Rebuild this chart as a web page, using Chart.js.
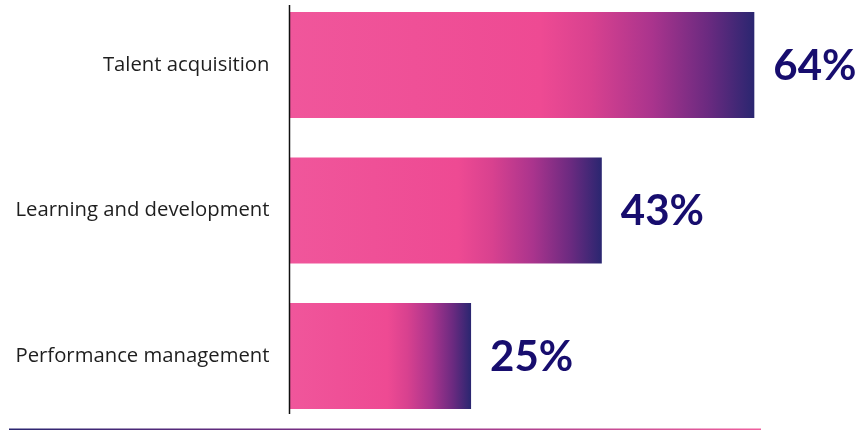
<!DOCTYPE html>
<html>
<head>
<meta charset="utf-8">
<script src="https://cdn.jsdelivr.net/npm/chart.js@4/dist/chart.umd.min.js"></script>
<style>
  html, body { margin: 0; padding: 0; background: #ffffff; }
  #wrap { width: 860px; height: 430px; position: relative; }
</style>
</head>
<body>
<div id="wrap"><canvas id="chart"></canvas></div>
<script>
// Share of respondents by HR focus area
const categories = ['Talent acquisition', 'Learning and development', 'Performance management'];
const shares = [64, 43, 25];
const valueLabels = ['64%', '43%', '25%'];

const PINK_LIGHT = '#F0569B';
const PINK = '#EE4A93';
const NAVY = '#2A2670';
const LABEL_NAVY = '#170D6E';

// Horizontal gradient that runs across each bar from its base to its tip
function barGradient(ctx) {
  const chart = ctx.chart;
  if (!chart.chartArea || ctx.type !== 'data') return PINK;
  const xs = chart.scales.x;
  const x0 = xs.getPixelForValue(0);
  const x1 = xs.getPixelForValue(ctx.raw);
  if (!isFinite(x0) || !isFinite(x1) || x1 <= x0) return PINK;
  const g = chart.ctx.createLinearGradient(x0, 0, x1, 0);
  g.addColorStop(0, PINK_LIGHT);
  g.addColorStop(0.54, PINK);
  g.addColorStop(0.65, '#D8418F');
  g.addColorStop(0.78, '#AA348D');
  g.addColorStop(0.9, '#6B2A80');
  g.addColorStop(1, NAVY);
  return g;
}

// Value labels, vertical axis rule and the gradient underline
const decorations = {
  id: 'decorations',
  afterDatasetsDraw(chart) {
    const c = chart.ctx;
    const area = chart.chartArea;
    const meta = chart.getDatasetMeta(0);
    c.save();
    c.font = 'bold 42px Lato, "Noto Sans", sans-serif';
    c.fillStyle = LABEL_NAVY;
    c.textAlign = 'left';
    c.textBaseline = 'middle';
    meta.data.forEach((bar, i) => {
      c.fillText(valueLabels[i], bar.x + 19, bar.y + 1);
    });

    // vertical axis rule
    c.strokeStyle = '#111111';
    c.lineWidth = 1.5;
    c.beginPath();
    c.moveTo(area.left, 5);
    c.lineTo(area.left, 414);
    c.stroke();

    // underline
    const g = c.createLinearGradient(9, 0, 761, 0);
    g.addColorStop(0, '#2A2670');
    g.addColorStop(0.5, '#8A3088');
    g.addColorStop(1, '#F0609E');
    c.strokeStyle = g;
    c.lineWidth = 1.5;
    c.beginPath();
    c.moveTo(9, 429.25);
    c.lineTo(761, 429.25);
    c.stroke();
    c.restore();
  }
};

new Chart(document.getElementById('chart'), {
  type: 'bar',
  data: {
    labels: categories,
    datasets: [{
      data: shares,
      backgroundColor: barGradient,
      borderWidth: 0,
      barPercentage: 0.728,
      categoryPercentage: 1,
      clip: false
    }]
  },
  options: {
    indexAxis: 'y',
    responsive: true,
    maintainAspectRatio: false,
    animation: false,
    layout: { padding: { top: 65, bottom: 74, left: 0, right: 4 } },
    plugins: {
      legend: { display: false },
      tooltip: { enabled: false }
    },
    scales: {
      x: {
        min: 0,
        max: 78,
        display: false
      },
      y: {
        offset: false,
        grid: { display: false, drawTicks: false },
        border: { display: false },
        afterFit(scale) { scale.width = 289.5; },
        ticks: {
          padding: 20,
          color: '#1E1E1E',
          font: { family: '"Open Sans", "Noto Sans", sans-serif', size: 20.3 }
        }
      }
    }
  },
  plugins: [decorations]
});
</script>
</body>
</html>
